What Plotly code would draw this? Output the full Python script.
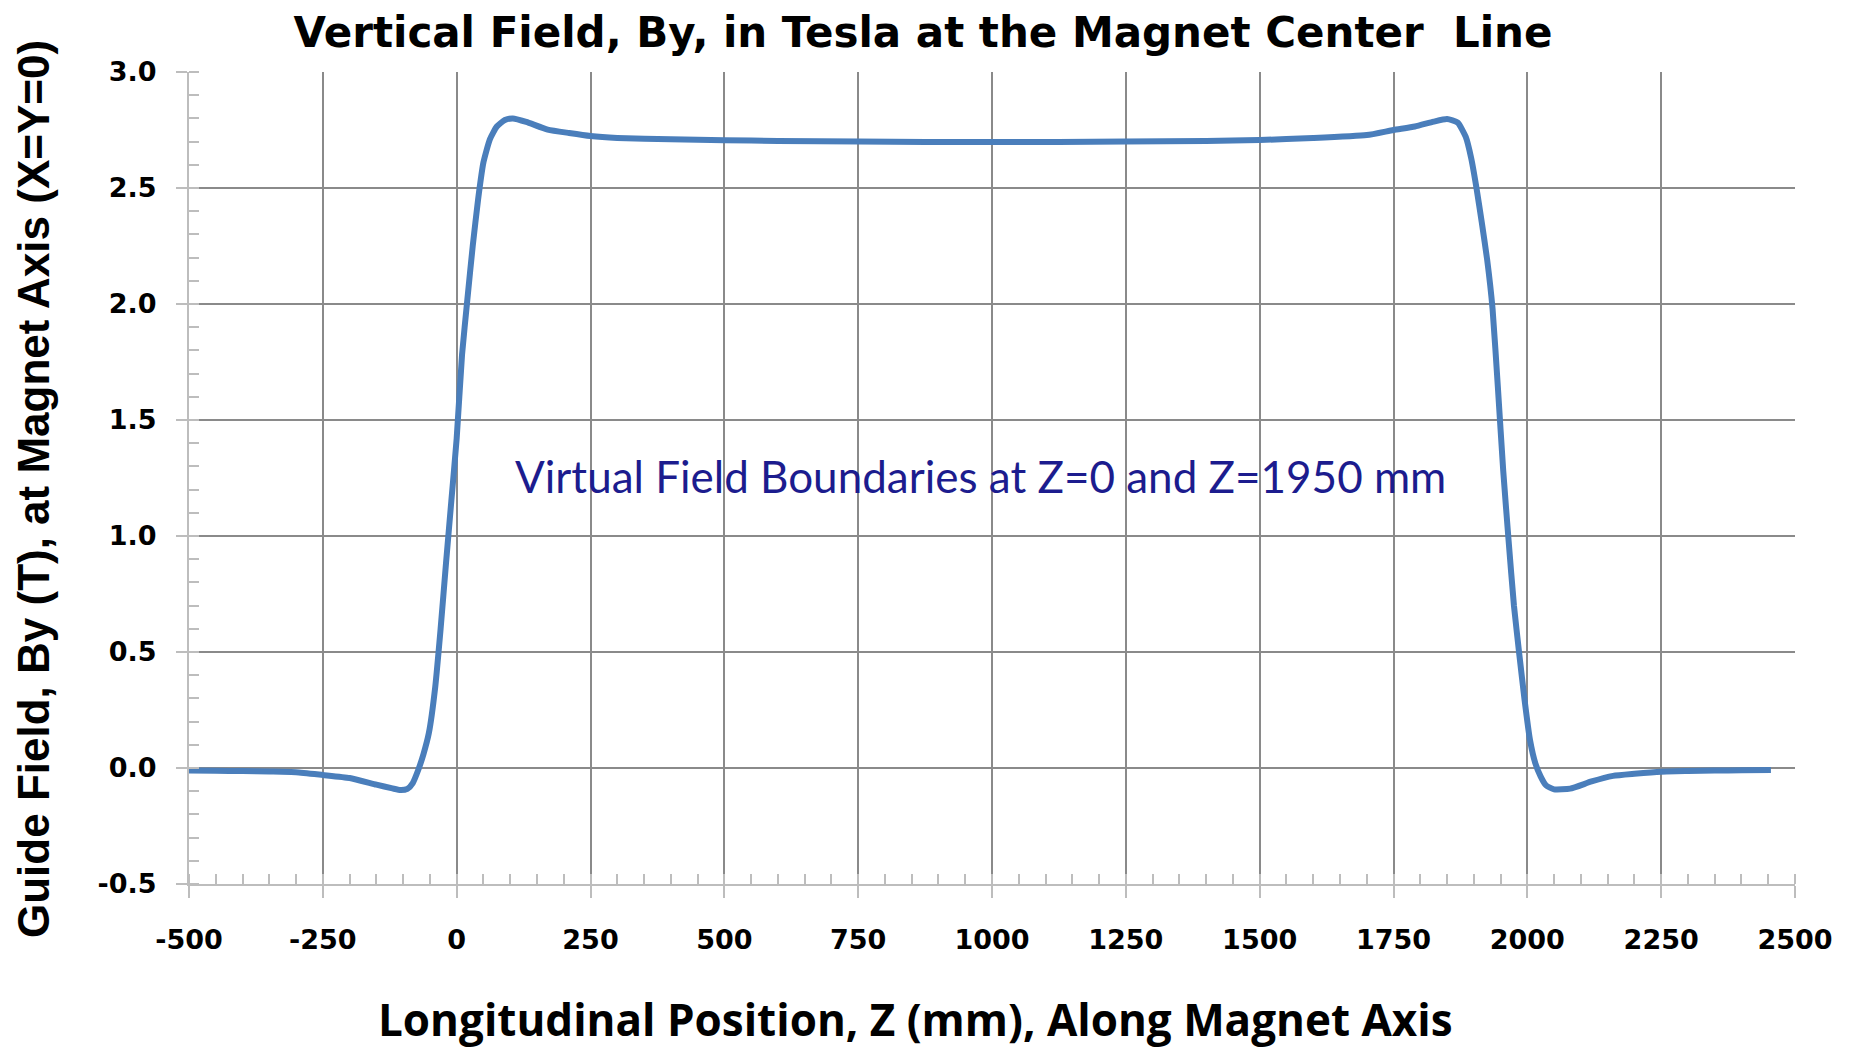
import plotly.graph_objects as go

# ---- data ----
z_mm = [-500, -450, -400, -350, -300, -250, -200, -150, -120, -105, -92, -82,
        -72, -62, -52, -40, -30, -20, -10, 0, 10, 20, 30, 40, 50, 62, 75, 90,
        105, 130, 170, 210, 250, 300, 400, 500, 600, 750, 1000, 1250, 1400,
        1500, 1600, 1700, 1750, 1790, 1825, 1850, 1870, 1885, 1895, 1905, 1915,
        1925, 1935, 1945, 1955, 1965, 1975, 1985, 1995, 2005, 2015, 2025, 2035,
        2050, 2080, 2120, 2160, 2200, 2250, 2300, 2350, 2400, 2455]
by_tesla = [-0.011, -0.012, -0.013, -0.015, -0.018, -0.030, -0.043, -0.072, -0.088,
            -0.095, -0.090, -0.065, -0.010, 0.06, 0.15, 0.35, 0.60, 0.88, 1.15,
            1.42, 1.78, 2.02, 2.25, 2.45, 2.61, 2.71, 2.765, 2.793, 2.800, 2.785,
            2.752, 2.737, 2.724, 2.716, 2.710, 2.706, 2.703, 2.700, 2.698, 2.700,
            2.703, 2.707, 2.715, 2.728, 2.750, 2.765, 2.786, 2.797, 2.782, 2.72,
            2.63, 2.50, 2.35, 2.19, 1.98, 1.64, 1.28, 0.98, 0.70, 0.49, 0.29, 0.12,
            0.02, -0.037, -0.075, -0.092, -0.089, -0.058, -0.034, -0.025, -0.016,
            -0.013, -0.011, -0.010, -0.009]

x_ticks = [-500, -250, 0, 250, 500, 750, 1000, 1250, 1500, 1750, 2000, 2250, 2500]
y_ticks = [-0.5, 0.0, 0.5, 1.0, 1.5, 2.0, 2.5, 3.0]
y_tick_labels = ["-0.5", "0.0", "0.5", "1.0", "1.5", "2.0", "2.5", "3.0"]

title_text = "Vertical Field, By, in Tesla at the Magnet Center  Line"
x_title = "Longitudinal Position, Z (mm), Along Magnet Axis"
y_title = "Guide Field, By (T), at Magnet Axis (X=Y=0)"
note_text = "Virtual Field Boundaries at Z=0 and Z=1950 mm"
note_pos = (978, 1.26)

# page has an 8px body margin, so the figure is sized/positioned accordingly
W, H = 1848, 1042
L, R, T, B = 181, 61, 64, 166

fig = go.Figure()
fig.add_trace(go.Scatter(
    x=z_mm, y=by_tesla, mode="lines",
    line=dict(color="#4a7ebb", width=6, shape="spline", smoothing=0.5),
    showlegend=False, hoverinfo="skip"))

grid_col = "#8a8a8a"
axis_col = "#bdbdbd"
tick_font = dict(family="DejaVu Sans", size=27, color="black", weight="bold")

fig.update_xaxes(
    range=[-500, 2500], tickvals=x_ticks, ticktext=[str(v) for v in x_ticks],
    showgrid=True, gridcolor=grid_col, gridwidth=2,
    showline=True, linecolor=axis_col, linewidth=2,
    ticks="outside", ticklen=12, tickwidth=2, tickcolor=axis_col,
    ticklabelstandoff=19, tickfont=tick_font, zeroline=False, automargin=False,
    minor=dict(dtick=50, tick0=0, ticks="inside", ticklen=10, tickwidth=1.5,
               tickcolor=axis_col, showgrid=False),
)
fig.update_yaxes(
    range=[-0.5, 3.0], tickvals=y_ticks, ticktext=y_tick_labels,
    showgrid=True, gridcolor=grid_col, gridwidth=2,
    showline=True, linecolor=axis_col, linewidth=2,
    ticks="outside", ticklen=11, tickwidth=2, tickcolor=axis_col,
    ticklabelstandoff=14, tickfont=tick_font, zeroline=False, automargin=False,
    minor=dict(dtick=0.1, tick0=0, ticks="inside", ticklen=10, tickwidth=1.5,
               tickcolor=axis_col, showgrid=False),
)

fig.update_layout(
    width=W, height=H,
    margin=dict(l=L, r=R, t=T, b=B),
    paper_bgcolor="white", plot_bgcolor="white",
    title=dict(text=title_text, x=915 / W, y=1 - 24 / H, xref="container",
               yref="container", xanchor="center", yanchor="middle",
               font=dict(family="DejaVu Sans", size=42, color="black", weight="bold")),
)

plot_w = W - L - R
plot_h = H - T - B
fig.add_annotation(
    text=x_title, xref="paper", yref="paper",
    x=(907 - L) / plot_w, y=-(1011 - (H - B)) / plot_h,
    xanchor="center", yanchor="middle", showarrow=False,
    font=dict(family="Open Sans", size=44, color="black", weight="bold"))
fig.add_annotation(
    text=y_title, xref="paper", yref="paper", textangle=-90,
    x=(25 - L) / plot_w, y=((H - B) - 481) / plot_h,
    xanchor="center", yanchor="middle", showarrow=False,
    font=dict(family="Liberation Sans", size=44, color="black", weight="bold"))
fig.add_annotation(
    text=note_text, xref="x", yref="y", x=note_pos[0], y=note_pos[1],
    xanchor="center", yanchor="middle", showarrow=False,
    font=dict(family="Lato", size=44, color="#1c1c8e"))

fig.write_html("out.html")
